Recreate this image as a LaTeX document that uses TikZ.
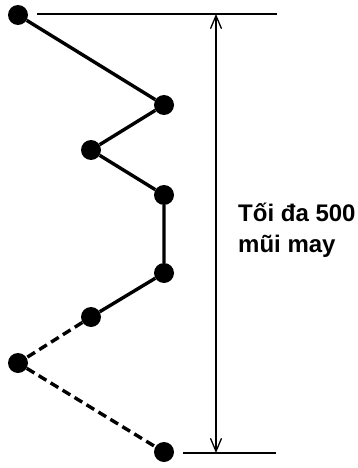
\documentclass[tikz,border=0pt]{standalone}
\usepackage{fontspec}
\setmainfont{Liberation Sans}
\usetikzlibrary{arrows.meta}

\begin{document}
\begin{tikzpicture}[x=1pt,y=-1pt,
  dot/.style={circle,fill=black,inner sep=0pt,minimum size=20pt},
  stitch/.style={line width=3.4pt},
  skipped/.style={line width=3.4pt,dash pattern=on 9pt off 5pt},
  dimline/.style={line width=1.3pt}]
  \useasboundingbox (0,0) rectangle (357,468);
  % needle points
  \node[dot] (p1) at (18,15) {};
  \node[dot] (p2) at (164,105) {};
  \node[dot] (p3) at (91,150) {};
  \node[dot] (p4) at (164,195) {};
  \node[dot] (p5) at (164,273) {};
  \node[dot] (p6) at (91,317) {};
  \node[dot] (p7) at (18,363) {};
  \node[dot] (p8) at (164,452) {};
  % stitches
  \draw[stitch] (p1) -- (p2) -- (p3) -- (p4) -- (p5) -- (p6);
  \draw[skipped] (p6) -- (p7) -- (p8);
  % dimension
  \coordinate (topl) at (37,14);
  \coordinate (topr) at (277,14);
  \coordinate (botl) at (183,453);
  \coordinate (botr) at (276,453);
  \draw[dimline] (topl) -- (topr);
  \draw[dimline] (botl) -- (botr);
  \coordinate (dtop) at (216,14);
  \coordinate (dbot) at (216,453);
  \draw[dimline,{Straight Barb[length=13pt,width=11pt]}-{Straight Barb[length=13pt,width=11pt]}] (dtop) -- (dbot);
  \node[anchor=base west,inner sep=0pt,font=\fontsize{24}{30}\selectfont\bfseries] (lab1) at (238,221) {Tối đa 500};
  \node[anchor=base west,inner sep=0pt,font=\fontsize{24}{30}\selectfont\bfseries] (lab2) at (238,252) {mũi may};
\end{tikzpicture}
\end{document}
